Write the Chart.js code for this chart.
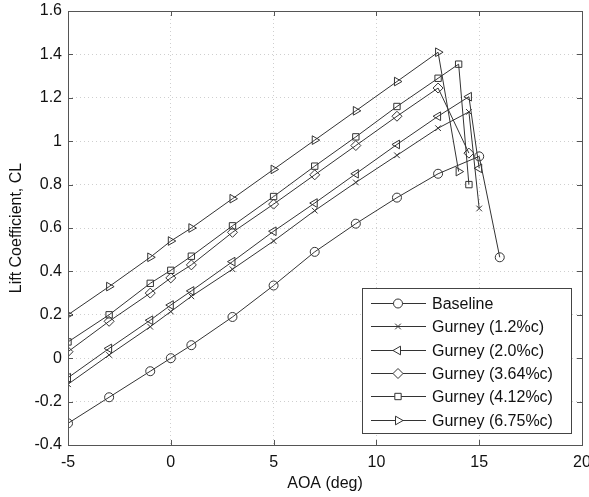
<!DOCTYPE html>
<html lang="en">
  <head>
    <meta charset="utf-8">
    <title>Lift Coefficient vs AOA</title>
    <script src="https://cdn.jsdelivr.net/npm/chart.js@4.4.0/dist/chart.umd.min.js"></script>
    <style>
      html, body { margin: 0; padding: 0; background: #fff; }
      div.wrap { width: 589px; height: 497px; }
    </style>
  </head>
  <body>
    <div class="wrap"><canvas id="chart-1" width="589" height="497"></canvas></div>

    <script>
      // angle of attack (deg) and lift coefficient
      var aoaBase = [-5, -3, -1, 0, 1, 3, 5, 7, 9, 11, 13, 15, 16];
      var clBase  = [-0.30, -0.18, -0.06, 0.00, 0.06, 0.19, 0.335, 0.49, 0.62, 0.74, 0.85, 0.93, 0.465];

      var aoaG12 = [-5, -3, -1, 0, 1, 3, 5, 7, 9, 11, 13, 14.5, 15];
      var clG12  = [-0.12, 0.015, 0.145, 0.215, 0.285, 0.41, 0.54, 0.68, 0.81, 0.935, 1.06, 1.135, 0.69];

      var aoaG20 = [-5, -3, -1, 0, 1, 3, 5, 7, 9, 11, 13, 14.5, 15];
      var clG20  = [-0.09, 0.045, 0.175, 0.245, 0.31, 0.445, 0.585, 0.715, 0.85, 0.985, 1.115, 1.205, 0.875];

      var aoaG364 = [-5, -3, -1, 0, 1, 3, 5, 7, 9, 11, 13, 14.5];
      var clG364  = [0.03, 0.17, 0.30, 0.37, 0.43, 0.58, 0.71, 0.845, 0.98, 1.115, 1.245, 0.945];

      var aoaG412 = [-5, -3, -1, 0, 1, 3, 5, 7, 9, 11, 13, 14, 14.5];
      var clG412  = [0.075, 0.20, 0.345, 0.405, 0.47, 0.61, 0.745, 0.885, 1.02, 1.16, 1.29, 1.355, 0.80];

      var aoaG675 = [-5, -3, -1, 0, 1, 3, 5, 7, 9, 11, 13, 14];
      var clG675  = [0.20, 0.33, 0.465, 0.54, 0.60, 0.735, 0.87, 1.005, 1.14, 1.275, 1.41, 0.86];

      var seriesLabels = ["Baseline", "Gurney (1.2%c)", "Gurney (2.0%c)", "Gurney (3.64%c)", "Gurney (4.12%c)", "Gurney (6.75%c)"];
      var xTicks = [-5, 0, 5, 10, 15, 20];
      var yTicks = [-0.4, -0.2, 0, 0.2, 0.4, 0.6, 0.8, 1, 1.2, 1.4, 1.6];

      var ink = "#333";
      var font = "'Liberation Sans', Arial, sans-serif";

      function pts(xs, ys) {
        return xs.map(function (x, i) { return { x: x, y: ys[i] }; });
      }

      function series(label, xs, ys, style, rot, r) {
        return {
          label: label,
          data: pts(xs, ys),
          showLine: true,
          borderColor: ink,
          borderWidth: 1,
          backgroundColor: "rgba(0,0,0,0)",
          pointStyle: style,
          rotation: rot,
          pointRadius: r,
          pointBorderWidth: 1,
          pointBorderColor: ink,
          pointBackgroundColor: "rgba(0,0,0,0)",
          tension: 0
        };
      }

      var sets = [
        series(seriesLabels[0], aoaBase, clBase, "circle", 0, 4.5),
        series(seriesLabels[1], aoaG12, clG12, "crossRot", 0, 4),
        series(seriesLabels[2], aoaG20, clG20, "triangle", -90, 5),
        series(seriesLabels[3], aoaG364, clG364, "rectRot", 0, 5),
        series(seriesLabels[4], aoaG412, clG412, "rect", 0, 4.5),
        series(seriesLabels[5], aoaG675, clG675, "triangle", 90, 5)
      ];

      // frame, inward ticks and legend box in the lower right
      var framePlugin = {
        id: "frame",
        afterDraw: function (chart) {
          var ctx = chart.ctx, a = chart.chartArea;
          var sx = chart.scales.x, sy = chart.scales.y;
          ctx.save();
          ctx.strokeStyle = "#555";
          ctx.lineWidth = 1;
          ctx.strokeRect(Math.round(a.left) + 0.5, Math.round(a.top) + 0.5,
                         Math.round(a.right - a.left), Math.round(a.bottom - a.top));
          ctx.beginPath();
          xTicks.forEach(function (v) {
            var px = Math.round(sx.getPixelForValue(v)) + 0.5;
            ctx.moveTo(px, a.bottom); ctx.lineTo(px, a.bottom - 5);
            ctx.moveTo(px, a.top); ctx.lineTo(px, a.top + 5);
          });
          yTicks.forEach(function (v) {
            var py = Math.round(sy.getPixelForValue(v)) + 0.5;
            ctx.moveTo(a.left, py); ctx.lineTo(a.left + 5, py);
            ctx.moveTo(a.right, py); ctx.lineTo(a.right - 5, py);
          });
          ctx.stroke();

          // legend
          var bx = 362, by = 288, bw = 209, bh = 145;
          ctx.fillStyle = "#fff";
          ctx.fillRect(bx, by, bw, bh);
          ctx.strokeStyle = "#444";
          ctx.strokeRect(bx + 0.5, by + 0.5, bw, bh);
          ctx.font = "16px " + font;
          ctx.textBaseline = "middle";
          ctx.textAlign = "left";
          sets.forEach(function (ds, i) {
            var y = Math.round(by + 15 + i * 23.3) + 0.5;
            ctx.strokeStyle = ink;
            ctx.lineWidth = 1;
            ctx.beginPath();
            ctx.moveTo(371, y);
            ctx.lineTo(426, y);
            ctx.stroke();
            ctx.fillStyle = "#fff";
            Chart.helpers.drawPoint(ctx, {
              pointStyle: ds.pointStyle,
              rotation: ds.rotation,
              radius: ds.pointRadius,
              borderWidth: 1
            }, 398, y);
            ctx.fillStyle = "#111";
            ctx.fillText(ds.label, 432, y + 1);
          });
          ctx.restore();
        }
      };

      function tickText(v) {
        return String(Math.round(v * 10) / 10);
      }

      new Chart(document.getElementById("chart-1"), {
        type: "scatter",
        data: { datasets: sets },
        options: {
          responsive: false,
          animation: false,
          layout: { padding: { left: 7, top: 11, right: 7, bottom: 0 } },
          plugins: { legend: { display: false }, tooltip: { enabled: false } },
          scales: {
            x: {
              type: "linear",
              min: -5, max: 20,
              afterBuildTicks: function (s) { s.ticks = xTicks.map(function (v) { return { value: v }; }); },
              afterFit: function (s) { s.height = 52; s.paddingLeft = 0; s.paddingRight = 0; },
              grid: { color: "#cfcfcf", drawTicks: false },
              border: { display: false, dash: [1, 3] },
              ticks: { color: "#111", padding: 8, callback: tickText, font: { family: font, size: 16 } },
              title: { display: true, text: "AOA (deg)", color: "#111", padding: { top: 0, bottom: 4 }, font: { family: font, size: 16 } }
            },
            y: {
              type: "linear",
              min: -0.4, max: 1.6,
              afterBuildTicks: function (s) { s.ticks = yTicks.map(function (v) { return { value: v }; }); },
              afterFit: function (s) { s.width = 61; s.paddingTop = 0; s.paddingBottom = 0; },
              grid: { color: "#cfcfcf", drawTicks: false },
              border: { display: false, dash: [1, 3] },
              ticks: { color: "#111", padding: 6, callback: tickText, font: { family: font, size: 16 } },
              title: { display: true, text: "Lift Coefficient, CL", color: "#111", padding: { top: 0, bottom: 2 }, font: { family: font, size: 16 } }
            }
          }
        },
        plugins: [framePlugin]
      });
    </script>
  </body>
</html>
